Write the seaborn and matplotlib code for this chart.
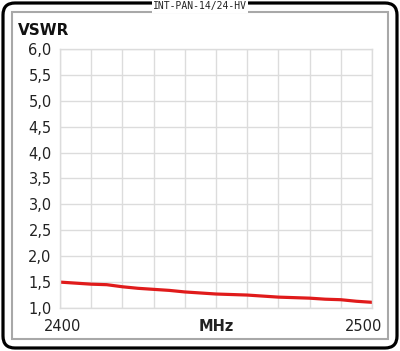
import matplotlib
matplotlib.use("Agg")
import matplotlib.pyplot as plt
import matplotlib.transforms as mtransforms
import seaborn as sns
import pandas as pd
from matplotlib.patches import FancyBboxPatch, Rectangle

# values
freq_mhz = [2400, 2405, 2410, 2415, 2420, 2425, 2430, 2435, 2440, 2445, 2450,
            2455, 2460, 2465, 2470, 2475, 2480, 2485, 2490, 2495, 2500]
vswr = [1.50, 1.48, 1.46, 1.45, 1.41, 1.38, 1.36, 1.34, 1.31, 1.29, 1.27,
        1.26, 1.25, 1.23, 1.21, 1.20, 1.19, 1.17, 1.16, 1.13, 1.11]
y_ticks = [1.0, 1.5, 2.0, 2.5, 3.0, 3.5, 4.0, 4.5, 5.0, 5.5, 6.0]
y_labels = ["1,0", "1,5", "2,0", "2,5", "3,0", "3,5", "4,0", "4,5", "5,0", "5,5", "6,0"]
x_ticks = list(range(2400, 2501, 10))
x_labels = ["2400"] + [""] * 9 + ["2500"]

sns.set_style("white")
plt.rcParams['font.family'] = ['DejaVu Sans']

df = pd.DataFrame({'MHz': freq_mhz, 'VSWR': vswr})

fig = plt.figure(figsize=(4.0, 3.51), dpi=100)
ax = fig.add_axes([0.15, 0.1225, 0.78, 0.738])

sns.lineplot(data=df, x='MHz', y='VSWR', color='#e01b1b', linewidth=2.3, ax=ax)

ax.set_xlim(2400, 2500)
ax.set_ylim(1.0, 6.0)
ax.set_xticks(x_ticks)
ax.set_xticklabels(x_labels, fontsize=10.5, color='#222222')
ax.set_yticks(y_ticks)
ax.set_yticklabels(y_labels, fontsize=10.5, color='#222222')
ax.tick_params(axis='y', length=0, pad=6)
ax.tick_params(axis='x', length=0, pad=8)
ax.set_xlabel('')
ax.set_ylabel('')
ax.grid(True, color='#dcdcdc', linewidth=1)
for s in ax.spines.values():
    s.set_color('#dcdcdc')
    s.set_linewidth(1)

# nudge the end labels like the original
shifts = {0: 2, len(x_labels) - 1: -6}
for i, lab in enumerate(ax.get_xticklabels()):
    if i in shifts:
        off = mtransforms.ScaledTranslation(shifts[i] / 72, 0, fig.dpi_scale_trans)
        lab.set_transform(lab.get_transform() + off)

ax.text(0.5, -0.07, 'MHz', transform=ax.transAxes, ha='center', va='center',
        fontsize=10.5, fontweight='bold', color='#222222')

# frames
fig.patches.append(FancyBboxPatch((0.03, 0.03), 3.94, 3.45,
                                  boxstyle="round,pad=0,rounding_size=0.12",
                                  transform=fig.dpi_scale_trans, fill=False,
                                  edgecolor='black', linewidth=2.3))
fig.patches.append(Rectangle((0.12, 0.12), 3.76, 3.27,
                             transform=fig.dpi_scale_trans, fill=False,
                             edgecolor='#a8a8a8', linewidth=1.5))

fig.text(0.045, 0.912, 'VSWR', fontsize=11, fontweight='bold', color='#111111',
         ha='left', va='center')
fig.text(0.5, 0.982, 'INT-PAN-14/24-HV', family='DejaVu Sans Mono', fontsize=7,
         ha='center', va='center', color='#222222',
         bbox=dict(facecolor='white', edgecolor='none', pad=1))

fig.savefig('out.png', dpi=100)
